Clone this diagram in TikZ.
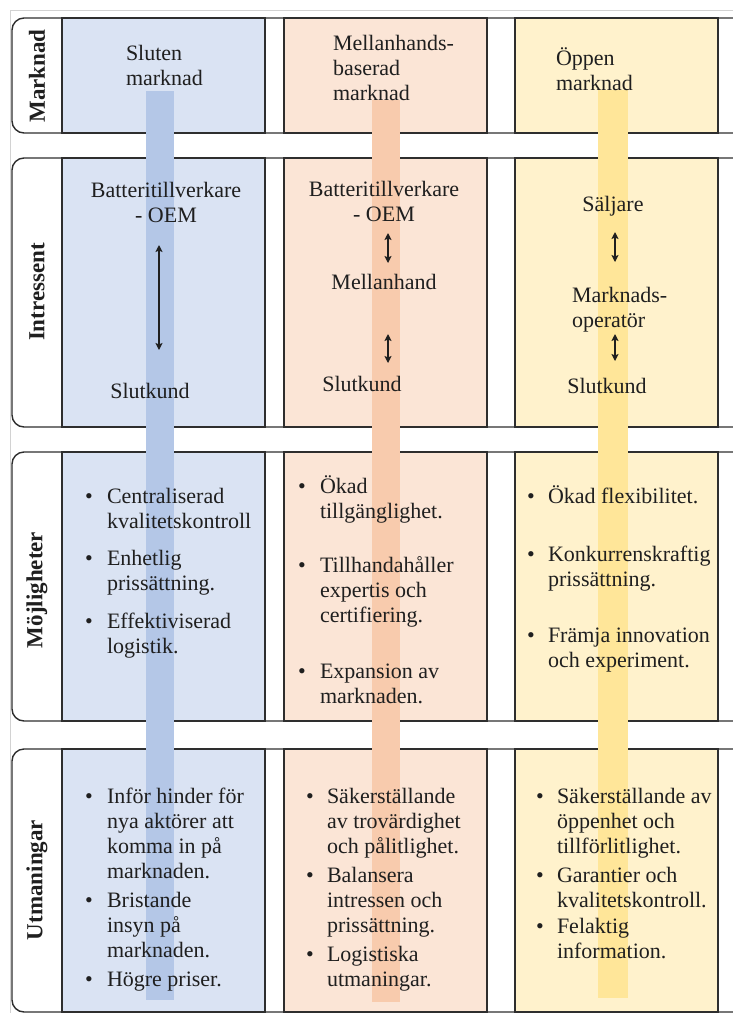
\documentclass[tikz,border=0pt]{standalone}
\usepackage{fontspec}
\setmainfont{Liberation Serif}
\usetikzlibrary{arrows.meta}

\definecolor{ink}{HTML}{1F1F1F}
\definecolor{edge}{HTML}{2E2E2E}
\definecolor{pagerule}{HTML}{D2D2D2}
\definecolor{bluefill}{HTML}{DAE3F3}
\definecolor{bluebar}{HTML}{B4C7E7}
\definecolor{orangefill}{HTML}{FBE5D6}
\definecolor{orangebar}{HTML}{F8CBAD}
\definecolor{yellowfill}{HTML}{FFF2CC}
\definecolor{yellowbar}{HTML}{FFE699}

% one bullet point: name, bullet x, text x, first baseline, last baseline, text
\newcommand\bulletentry[6]{%
  \node[bul] (#1b) at (#2,#4) {•};
  \node[txt] (#1) at (#3,#5) {#6};}

\begin{document}
\begin{tikzpicture}[x=1pt,y=-1pt,
  rowframe/.style={draw=edge,line width=1.4pt,rounded corners=12pt},
  cell/.style={draw=edge,line width=1.3pt,fill=#1},
  plain/.style={font=\fontsize{22}{25}\selectfont,text=ink,inner sep=0pt,outer sep=0pt},
  txt/.style={plain,align=left,anchor=base west},
  ctxt/.style={plain,align=center,anchor=base},
  bul/.style={plain,anchor=base},
  rowlabel/.style={plain,font=\fontsize{23}{25}\selectfont\bfseries,rotate=90},
  link/.style={draw=ink,line width=1.3pt,{Stealth[length=7pt,width=7pt,inset=1.5pt]}-{Stealth[length=7pt,width=7pt,inset=1.5pt]}}
]
\useasboundingbox (0,0) rectangle (733,1013);
\clip (0,0) rectangle (733,1013);

% page rules
\draw[pagerule,line width=1pt] (10,1013) -- (10,10) -- (733,10);

% rows: outer frame and the three market columns
\foreach \top/\bot in {18/133,158/427,452/721,749/1012}{
  \draw[rowframe] (12,\top) rectangle (745,\bot);
  \draw[cell=bluefill] (62,\top) rectangle (265,\bot);
  \draw[cell=orangefill] (284,\top) rectangle (487,\bot);
  \draw[cell=yellowfill] (515,\top) rectangle (718,\bot);
}

% vertical column bars
\fill[bluebar] (146,91) rectangle (174,1000);
\fill[orangebar] (372,100) rectangle (400,1002);
\fill[yellowbar] (598,90) rectangle (628,998);

% row labels
\node[rowlabel] (lab1) at (37,76) {Marknad};
\node[rowlabel] (lab2) at (37,292) {Intressent};
\node[rowlabel] (lab3) at (37,590) {Möjligheter};
\node[rowlabel] (lab4) at (37,880) {Utmaningar};

% market type (anchored at the baseline of the last line)
\node[txt] (m1) at (126,85) {Sluten\\marknad};
\node[txt] (m2) at (333,100) {Mellanhands-\\baserad\\marknad};
\node[txt] (m3) at (556,90) {Öppen\\marknad};

% stakeholders
\node[ctxt] (b1) at (166,222) {Batteritillverkare\\- OEM};
\node[ctxt] (k1) at (150,398) {Slutkund};
\node[ctxt] (b2) at (384,221) {Batteritillverkare\\- OEM};
\node[ctxt] (h2) at (384,289) {Mellanhand};
\node[ctxt] (k2) at (362,391) {Slutkund};
\node[ctxt] (s3) at (613,211) {Säljare};
\node[txt] (o3) at (572,327) {Marknads-\\operatör};
\node[ctxt] (k3) at (607,393) {Slutkund};

\coordinate (a1t) at (159,245); \coordinate (a1b) at (159,350);
\coordinate (a2t) at (388,233); \coordinate (a2b) at (388,263);
\coordinate (a3t) at (388,334); \coordinate (a3b) at (388,363);
\coordinate (a4t) at (615,232); \coordinate (a4b) at (615,262);
\coordinate (a5t) at (615,334); \coordinate (a5b) at (615,361);
\draw[link] (a1t) -- (a1b);
\draw[link] (a2t) -- (a2b);
\draw[link] (a3t) -- (a3b);
\draw[link] (a4t) -- (a4b);
\draw[link] (a5t) -- (a5b);

% opportunities
\bulletentry{c1}{89}{107}{503}{528}{Centraliserad\\kvalitetskontroll}
\bulletentry{c2}{89}{107}{565}{590}{Enhetlig\\prissättning.}
\bulletentry{c3}{89}{107}{628}{653}{Effektiviserad\\logistik.}
\bulletentry{d1}{302}{320}{493}{518}{Ökad\\tillgänglighet.}
\bulletentry{d2}{302}{320}{572}{622}{Tillhandahåller\\expertis och\\certifiering.}
\bulletentry{d3}{302}{320}{678}{703}{Expansion av\\marknaden.}
\bulletentry{e1}{531}{548}{503}{503}{Ökad flexibilitet.}
\bulletentry{e2}{531}{548}{561}{586}{Konkurrenskraftig\\prissättning.}
\bulletentry{e3}{531}{548}{642}{667}{Främja innovation\\och experiment.}

% challenges
\bulletentry{f1}{89}{107}{803}{878}{Inför hinder för\\nya aktörer att\\komma in på\\marknaden.}
\bulletentry{f2}{89}{107}{907}{957}{Bristande\\insyn på\\marknaden.}
\bulletentry{f3}{89}{107}{986}{986}{Högre priser.}
\bulletentry{g1}{310}{327}{803}{853}{Säkerställande\\av trovärdighet\\och pålitlighet.}
\bulletentry{g2}{310}{327}{882}{932}{Balansera\\intressen och\\prissättning.}
\bulletentry{g3}{310}{327}{961}{986}{Logistiska\\utmaningar.}
\bulletentry{h1}{540}{557}{803}{853}{Säkerställande av\\öppenhet och\\tillförlitlighet.}
\bulletentry{h2}{540}{557}{882}{907}{Garantier och\\kvalitetskontroll.}
\bulletentry{h3}{540}{557}{933}{958}{Felaktig\\information.}
\end{tikzpicture}
\end{document}
